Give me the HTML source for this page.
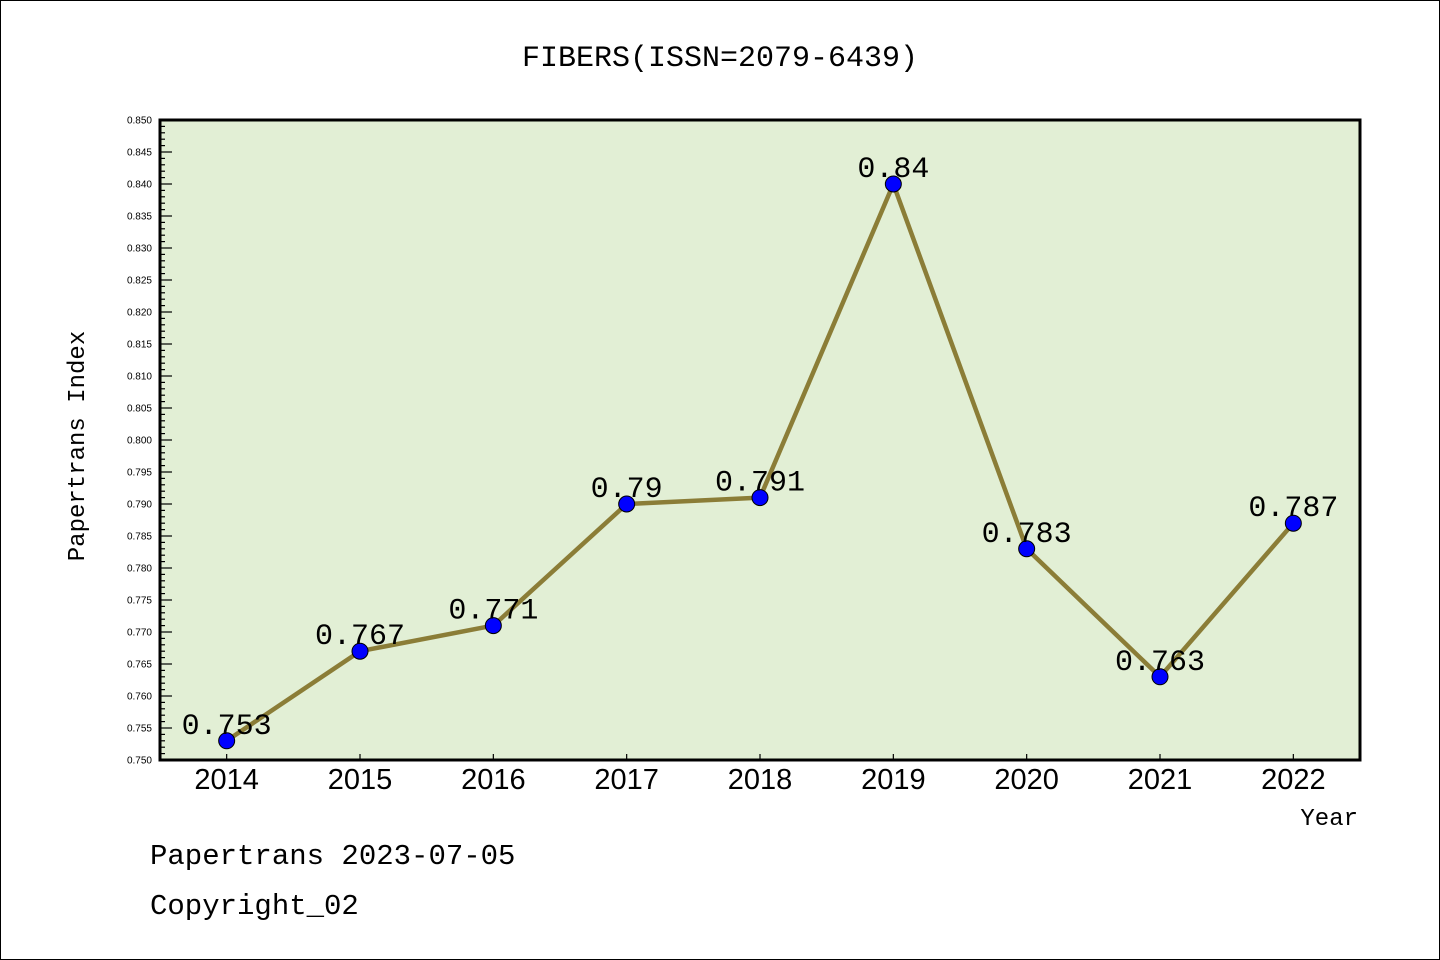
<!DOCTYPE html>
<html><head><meta charset="utf-8"><style>
body{margin:0;background:#fff}
svg{display:block;font-family:"Liberation Sans","WenQuanYi Zen Hei",sans-serif}
</style></head><body>
<svg id="chart" width="1440" height="960" viewBox="0 0 1440 960">
<rect x="0.5" y="0.5" width="1439" height="959" fill="#fff" stroke="#000"/>
<text x="720" y="66" text-anchor="middle" font-size="30" font-family="'WenQuanYi Zen Hei','Liberation Mono',monospace">FIBERS(ISSN=2079-6439)</text>
<rect x="160" y="120" width="1200" height="640" fill="#e2efd5"/>
<g id="yaxis"></g>
<g id="xaxis"></g>
<g id="series"></g>
<rect x="160" y="120" width="1200" height="640" fill="none" stroke="#000" stroke-width="3"/>
<text transform="translate(84,446) rotate(-90)" text-anchor="middle" font-size="24" font-family="'WenQuanYi Zen Hei','Liberation Mono',monospace">Papertrans Index</text>
<text x="1358" y="825" text-anchor="end" font-size="24" font-family="'WenQuanYi Zen Hei','Liberation Mono',monospace">Year</text>
<text x="150" y="864" font-size="29" font-family="'WenQuanYi Zen Hei','Liberation Mono',monospace">Papertrans 2023-07-05</text>
<text x="150" y="914" font-size="29" font-family="'WenQuanYi Zen Hei','Liberation Mono',monospace">Copyright_02</text>
</svg>
<script>
const categories=["2014","2015","2016","2017","2018","2019","2020","2021","2022"];
const values=[0.753,0.767,0.771,0.79,0.791,0.84,0.783,0.763,0.787];
const valueLabels=["0.753","0.767","0.771","0.79","0.791","0.84","0.783","0.763","0.787"];
const yMin=0.75,yMax=0.85,yStep=0.005;
const NS="http://www.w3.org/2000/svg";
const L=160,R=1360,T=120,B=760;
function y(v){return B-(v-yMin)/(yMax-yMin)*(B-T);}
function x(i){const w=(R-L)/categories.length;return L+w*(i+0.5);}
function mk(tag,attrs,parent){const e=document.createElementNS(NS,tag);for(const k in attrs)e.setAttribute(k,attrs[k]);parent.appendChild(e);return e;}
const ya=document.getElementById('yaxis'),xa=document.getElementById('xaxis'),sg=document.getElementById('series');
const nMinor=Math.round((yMax-yMin)/0.001);
for(let k=0;k<=nMinor;k++){const v=yMin+k*0.001;const major=k%5===0;
 const t=mk('line',{x1:L,x2:L+(major?12:5),y1:y(v),y2:y(v),stroke:'#000','stroke-width':1.2},ya);
 
 
 if(major){const lb=mk('text',{x:152,y:y(v)+3.5,'text-anchor':'end','font-size':10},ya);lb.textContent=v.toFixed(3);
 
 }
}
categories.forEach((c,i)=>{
 const t=mk('line',{x1:x(i),x2:x(i),y1:B,y2:B-6,stroke:'#000','stroke-width':1.2},xa);
 
 
 const lb=mk('text',{x:x(i),y:789,'text-anchor':'middle','font-size':29},xa);lb.textContent=c;
 
 
});
const pl=mk('polyline',{points:values.map((v,i)=>x(i)+','+y(v)).join(' '),fill:'none',stroke:'#8b7d37','stroke-width':4.5,'stroke-linejoin':'round'},sg);


values.forEach((v,i)=>{
 const c=mk('circle',{cx:x(i),cy:y(v),r:8,fill:'#0000ff',stroke:'#000','stroke-width':1},sg);
 
 
 const t=mk('text',{x:x(i),y:y(v)-7,'text-anchor':'middle','font-size':30,'font-family':"'WenQuanYi Zen Hei','Liberation Mono',monospace"},sg);t.textContent=valueLabels[i];
 
 
});
</script>
</body></html>
